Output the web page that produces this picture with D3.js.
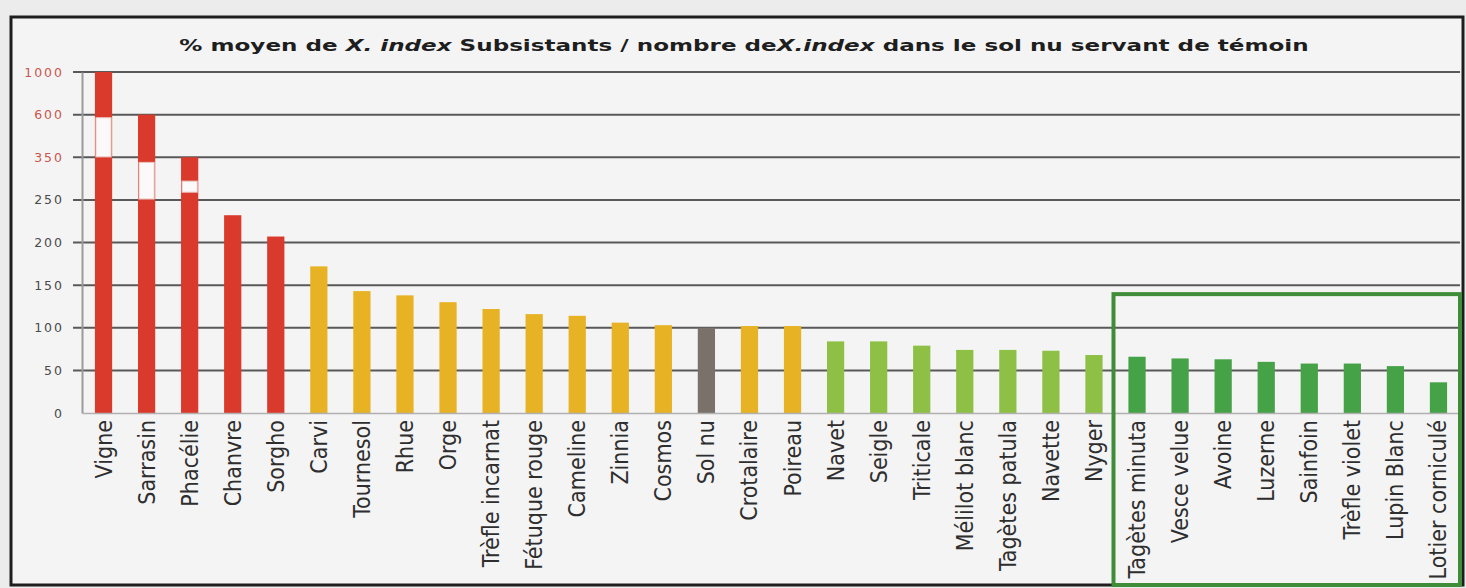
<!DOCTYPE html>
<html>
<head>
<meta charset="utf-8">
<script src="https://cdnjs.cloudflare.com/ajax/libs/d3/7.8.5/d3.min.js"></script>
<style>
  html, body { margin: 0; padding: 0; background: #ececec; }
  #chart { width: 1466px; height: 588px; }
  .cat { font-family: "Liberation Sans Narrow", "DejaVu Sans Condensed", sans-serif; font-size: 23px; fill: #2e2e2e; }
  .ytick { font-family: "DejaVu Sans", sans-serif; font-size: 12.5px; letter-spacing: 2px; }
</style>
</head>
<body>
<div id="chart"></div>
<script>
// Data
const categories = ['Vigne', 'Sarrasin', 'Phacélie', 'Chanvre', 'Sorgho', 'Carvi', 'Tournesol', 'Rhue', 'Orge',
  'Trèfle incarnat', 'Fétuque rouge', 'Cameline', 'Zinnia', 'Cosmos', 'Sol nu', 'Crotalaire', 'Poireau',
  'Navet', 'Seigle', 'Triticale', 'Mélilot blanc', 'Tagètes patula', 'Navette', 'Nyger',
  'Tagètes minuta', 'Vesce velue', 'Avoine', 'Luzerne', 'Sainfoin', 'Trèfle violet', 'Lupin Blanc', 'Lotier corniculé'];
const values = [1000, 600, 350, 232, 207, 172, 143, 138, 130,
  122, 116, 114, 106, 103, 100, 102, 102,
  84, 84, 79, 74, 74, 73, 68,
  66, 64, 63, 60, 58, 58, 55, 36];
const groups = ['high', 'high', 'high', 'high', 'high', 'mid', 'mid', 'mid', 'mid',
  'mid', 'mid', 'mid', 'mid', 'mid', 'control', 'mid', 'mid',
  'low', 'low', 'low', 'low', 'low', 'low', 'low',
  'best', 'best', 'best', 'best', 'best', 'best', 'best', 'best'];
// broken-axis gaps drawn as white cut in the tallest bars [category, from, to]
const breaks = [['Vigne', 352, 582], ['Sarrasin', 252, 338], ['Phacélie', 268, 294]];
const yTicks = [0, 50, 100, 150, 200, 250, 350, 600, 1000];
const redTicks = [350, 600, 1000];
const highlighted = ['Tagètes minuta', 'Lotier corniculé'];
const title = [
  { t: '% moyen de ', i: false },
  { t: 'X. index', i: true },
  { t: ' Subsistants / nombre de', i: false },
  { t: 'X.index', i: true },
  { t: ' dans le sol nu servant de témoin', i: false }
];

const colors = { high: '#da3a2b', mid: '#e7b224', control: '#7a716a', low: '#8dc045', best: '#45a247' };

const width = 1466, height = 588;
const margin = { top: 72, right: 4, bottom: 175, left: 82 };
const innerW = width - margin.left - margin.right;
const innerH = height - margin.top - margin.bottom;

const svg = d3.select('#chart').append('svg')
  .attr('width', width)
  .attr('height', height);

// outer frame
svg.append('rect')
  .attr('x', 11).attr('y', 17)
  .attr('width', 1452).attr('height', 568)
  .attr('fill', '#f4f4f4')
  .attr('stroke', '#1e1e1e')
  .attr('stroke-width', 3);

const g = svg.append('g').attr('transform', `translate(${margin.left},${margin.top})`);

const x = d3.scaleBand()
  .domain(categories)
  .range([0, innerW - 2])
  .paddingInner(0.6)
  .paddingOuter(0.3);

// equally spaced ticks on a broken scale
const y = d3.scaleLinear()
  .domain(yTicks)
  .range(yTicks.map((d, i) => innerH - i * innerH / (yTicks.length - 1)));

// gridlines
g.append('g')
  .selectAll('line')
  .data(yTicks.slice(1))
  .join('line')
  .attr('x1', -9)
  .attr('x2', innerW - 2)
  .attr('y1', d => y(d))
  .attr('y2', d => y(d))
  .attr('stroke', '#595959')
  .attr('stroke-width', 2);

// y axis
const yAxis = d3.axisLeft(y).tickValues(yTicks).tickFormat(d3.format('d')).tickSize(0).tickPadding(18);
const ya = g.append('g').call(yAxis);
ya.select('.domain').attr('stroke', '#9a9a9a').attr('stroke-width', 2);
ya.selectAll('text')
  .attr('class', 'ytick')
  .attr('fill', d => redTicks.includes(d) ? '#c8574f' : '#4a4a4a');

// bars
g.selectAll('rect.bar')
  .data(categories)
  .join('rect')
  .attr('class', 'bar')
  .attr('x', d => x(d))
  .attr('width', x.bandwidth())
  .attr('y', (d, i) => y(values[i]))
  .attr('height', (d, i) => innerH - y(values[i]))
  .attr('fill', (d, i) => colors[groups[i]]);

// white cuts for the broken bars
g.selectAll('rect.cut')
  .data(breaks)
  .join('rect')
  .attr('class', 'cut')
  .attr('x', d => x(d[0]) + 1)
  .attr('width', x.bandwidth() - 2)
  .attr('y', d => y(d[2]))
  .attr('height', d => y(d[1]) - y(d[2]))
  .attr('fill', '#fbf9f9')
  .attr('stroke', '#e9c3bd')
  .attr('stroke-width', 1);

// x axis with rotated labels
const xAxis = d3.axisBottom(x).tickSize(0).tickPadding(8);
const xa = g.append('g')
  .attr('transform', `translate(0,${innerH})`)
  .call(xAxis);
xa.select('.domain').attr('stroke', '#b0b0b0').attr('stroke-width', 1.5);
xa.selectAll('text')
  .attr('class', 'cat')
  .attr('text-anchor', 'end')
  .attr('x', 0)
  .attr('y', 0)
  .attr('dy', null)
  .attr('transform', 'translate(8,7) rotate(-90)');

// green highlight box
const bx0 = x(highlighted[0]) - (x.step() - x.bandwidth()) / 2 - 2;
g.append('rect')
  .attr('x', bx0)
  .attr('y', y(150) + 9)
  .attr('width', innerW - bx0 - 2)
  .attr('height', height - margin.top - (y(150) + 9) - 3)
  .attr('fill', 'none')
  .attr('stroke', '#3f8d38')
  .attr('stroke-width', 4);

// title, stretched horizontally to the reference width
const tt = svg.append('text')
  .attr('x', 0)
  .attr('y', 0)
  .attr('text-anchor', 'middle')
  .attr('font-family', '"DejaVu Sans", sans-serif')
  .attr('font-weight', 'bold')
  .attr('font-size', 16)
  .attr('fill', '#1e1e1e');
tt.selectAll('tspan')
  .data(title)
  .join('tspan')
  .attr('font-style', d => d.i ? 'italic' : 'normal')
  .text(d => d.t);
const tw = tt.node().getComputedTextLength();
tt.attr('transform', `translate(744,51) scale(${1130 / tw},1)`);
</script>
</body>
</html>
